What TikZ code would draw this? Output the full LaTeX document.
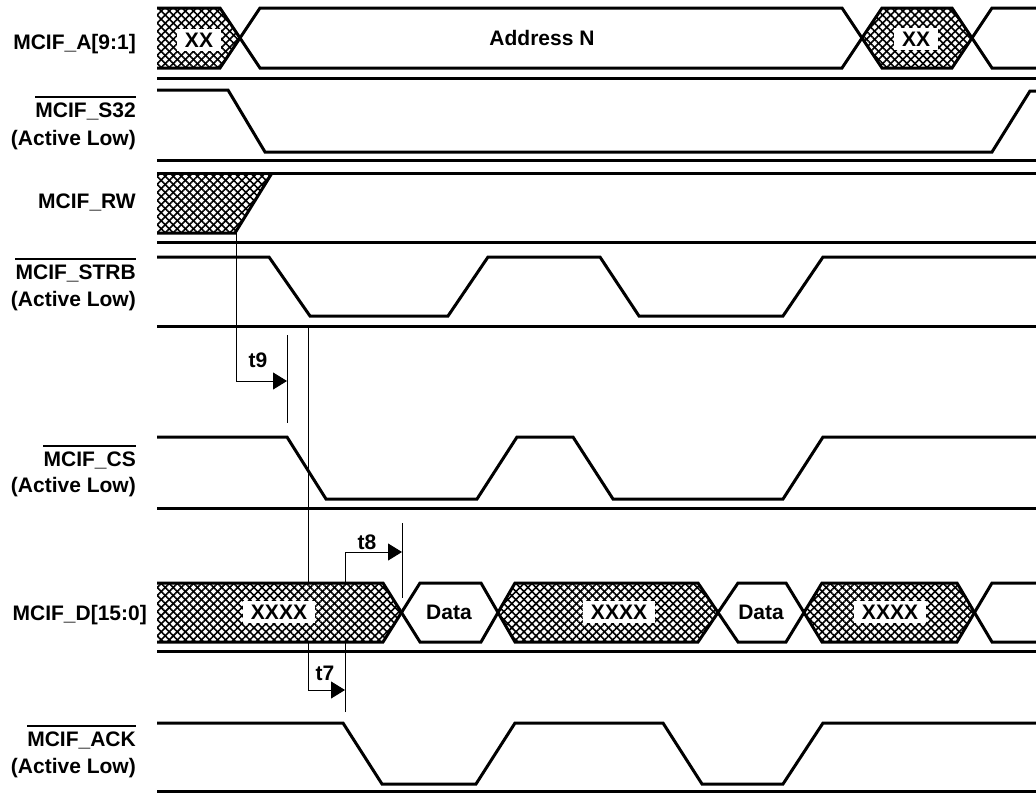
\documentclass[tikz,border=0pt]{standalone}
\usepackage{fontspec}
\setmainfont{Liberation Sans}
\usetikzlibrary{arrows.meta,patterns.meta}

\begin{document}
\begin{tikzpicture}[x=1pt,y=-1pt,font=\fontsize{21}{25}\selectfont\bfseries]
\tikzstyle{sig}=[line width=3pt]
\tikzstyle{tline}=[line width=1pt]
\tikzstyle{tarrow}=[line width=1pt,-{Triangle[length=14pt,width=17pt]}]
\tikzstyle{hatch}=[preaction={fill=white},preaction={pattern={Lines[angle=45,distance=5.7pt,line width=1.6pt]}},pattern={Lines[angle=-45,distance=5.7pt,line width=1.6pt]}]
\tikzstyle{signame}=[anchor=base east,inner sep=0pt]
\tikzstyle{bar}=[line width=2.5pt]
\tikzstyle{xbox}=[fill=white,inner xsep=8pt,inner ysep=4pt]
\useasboundingbox (0,0) rectangle (1036,793);

\node[signame] (la) at (136,49) {MCIF\_A[9:1]};
\node[signame] (ls32) at (136,117) {MCIF\_S32};
\node[signame] (ls32b) at (136,145) {(Active Low)};
\node[signame] (lrw) at (136,208) {MCIF\_RW};
\node[signame] (lstrb) at (136,279) {MCIF\_STRB};
\node[signame] (lstrbb) at (136,306) {(Active Low)};
\node[signame] (lcs) at (136,466) {MCIF\_CS};
\node[signame] (lcsb) at (136,492) {(Active Low)};
\node[signame] (ld) at (147,620) {MCIF\_D[15:0]};
\node[signame] (lack) at (136,746) {MCIF\_ACK};
\node[signame] (lackb) at (136,773) {(Active Low)};
\foreach \n in {ls32,lstrb,lcs,lack}
  \draw[bar] ([yshift=5pt]\n.north west) -- ([yshift=5pt]\n.north east);

\coordinate (rwedge) at (236,233);
\coordinate (t9end) at (287,381);
\coordinate (strbedge) at (308,326);
\coordinate (t7end) at (345,690);
\coordinate (ackedge) at (345,712);
\coordinate (t8end) at (402,552);
\draw[tarrow] (rwedge) |- (t9end);
\draw[tline] (287,335) -- (287,423);
\draw[tarrow] (strbedge) |- (t7end);
\draw[tarrow] (ackedge) |- (t8end);
\draw[tline] (402,523) -- (402,598);
\node (t9) at (258,360) {t9};
\node (t8) at (367,542) {t8};
\node (t7) at (325,673) {t7};

\path[hatch] (157,8) -- (220,8) -- (240,38) -- (220,68) -- (157,68) -- cycle;
\path[hatch] (862,38) -- (882,8) -- (952,8) -- (972,38) -- (952,68) -- (882,68) -- cycle;
\path[hatch] (157,173) -- (272,173) -- (235,233) -- (157,233) -- cycle;
\path[hatch] (157,583) -- (383,583) -- (401,612) -- (383,642) -- (157,642) -- cycle;
\path[hatch] (498,612) -- (515,583) -- (698,583) -- (717,612) -- (698,642) -- (515,642) -- cycle;
\path[hatch] (805,612) -- (822,583) -- (957,583) -- (973,612) -- (957,642) -- (822,642) -- cycle;

\foreach \y in {78,160,242,326,508,651,791}
  \draw[sig] (157,\y) -- (1036,\y);

\draw[sig] (157,8) -- (220,8) -- (260,68) -- (842,68) -- (882,8) -- (952,8) -- (992,68) -- (1036,68);
\draw[sig] (157,68) -- (220,68) -- (260,8) -- (842,8) -- (882,68) -- (952,68) -- (992,8) -- (1036,8);
\draw[sig] (157,90) -- (228,90) -- (265,152) -- (992,152) -- (1030,91) -- (1036,91);
\draw[sig] (157,173) -- (1036,173);
\draw[sig] (157,233) -- (235,233) -- (272,173);
\draw[sig] (157,257) -- (269,257) -- (310,316) -- (448,316) -- (488,257) -- (600,257) -- (639,316) -- (783,316) -- (823,257) -- (1036,257);
\draw[sig] (157,437) -- (287,437) -- (326,499) -- (477,499) -- (517,437) -- (573,437) -- (613,499) -- (783,499) -- (823,437) -- (1036,437);
\draw[sig] (157,583) -- (383,583) -- (420,642) -- (481,642) -- (515,583) -- (698,583) -- (738,642) -- (786,642) -- (822,583) -- (957,583) -- (992,642) -- (1036,642);
\draw[sig] (157,642) -- (383,642) -- (420,583) -- (481,583) -- (515,642) -- (698,642) -- (738,583) -- (786,583) -- (822,642) -- (957,642) -- (992,583) -- (1036,583);
\draw[sig] (157,723) -- (343,723) -- (382,784) -- (476,784) -- (515,723) -- (663,723) -- (702,784) -- (783,784) -- (823,723) -- (1036,723);

\node[xbox] (xx1) at (199,40) {XX};
\node[xbox] (xx2) at (916,39) {XX};
\node (addr) at (542,38) {Address N};
\node[xbox] (xxxx1) at (279,612) {XXXX};
\node (data1) at (449,612) {Data};
\node[xbox] (xxxx2) at (619,612) {XXXX};
\node (data2) at (761,612) {Data};
\node[xbox] (xxxx3) at (890,612) {XXXX};
\end{tikzpicture}
\end{document}
